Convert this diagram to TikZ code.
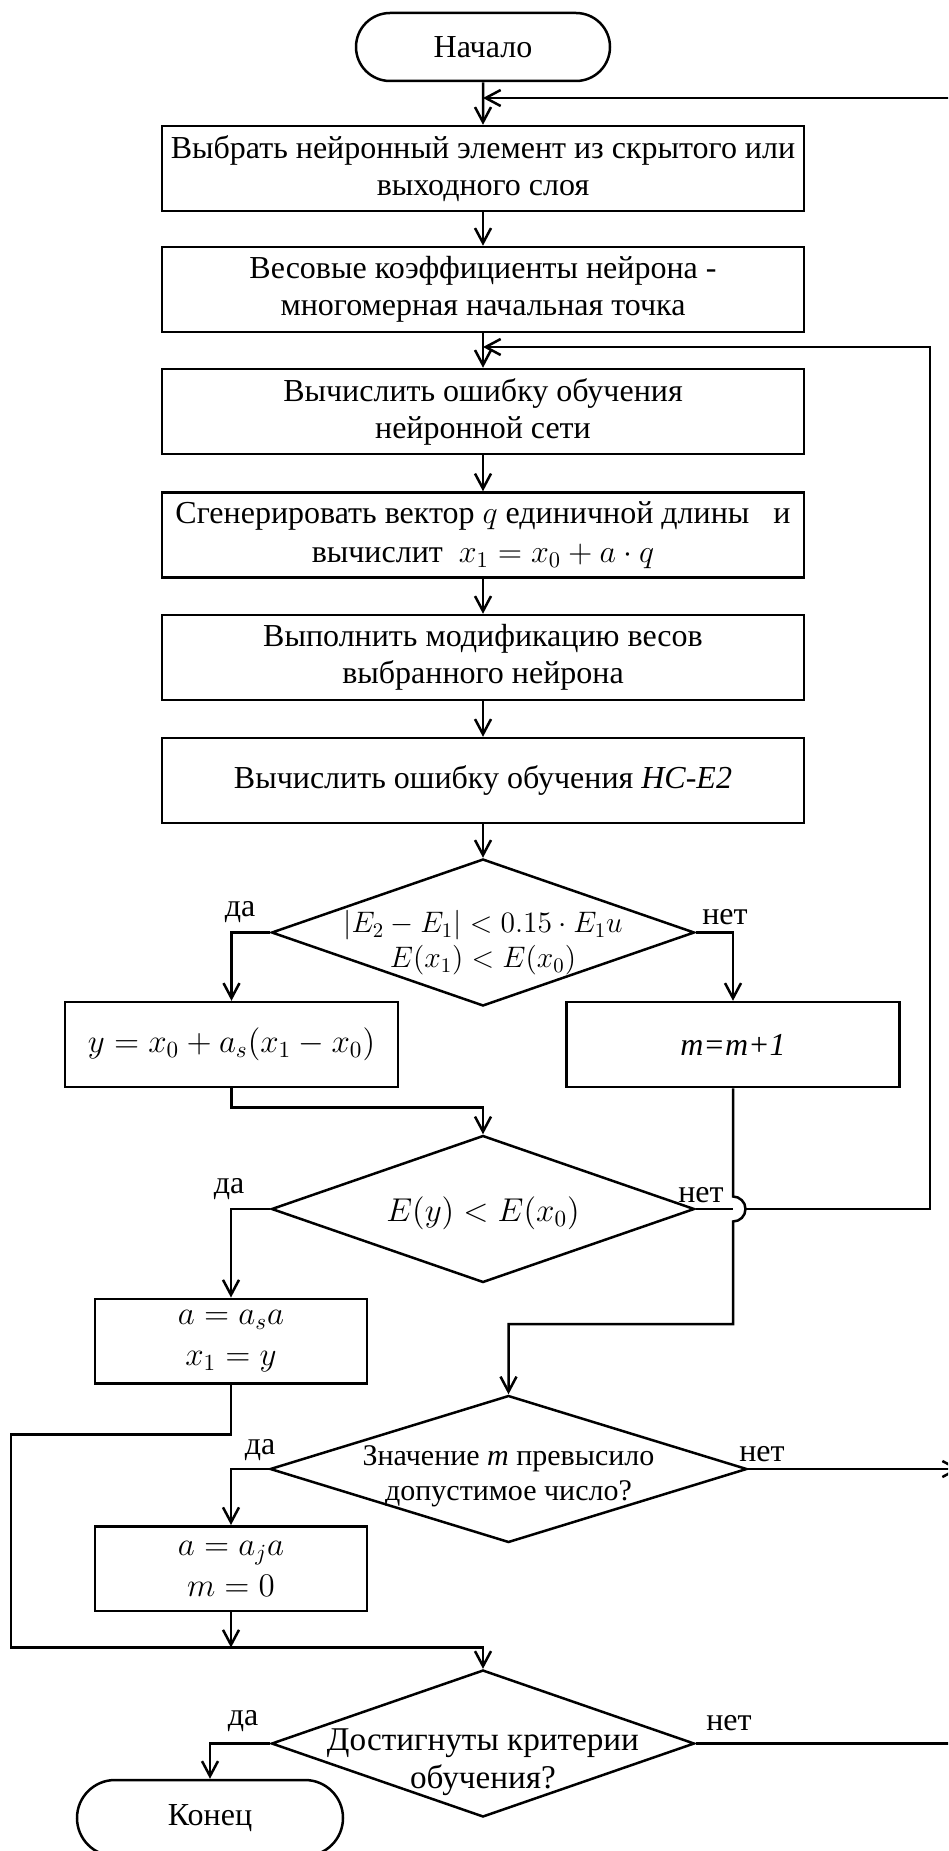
\RequirePackage{fix-cm}
\documentclass[tikz,border=0pt]{standalone}
\usepackage{amsmath,amssymb}
\usepackage{fontspec}
\setmainfont{Liberation Serif}
\usetikzlibrary{shapes.geometric,shapes.misc,arrows.meta}

\begin{document}
\begin{tikzpicture}[x=0.5pt, y=-0.5pt, ->, >={Straight Barb[length=7.5pt,width=8pt]}, line width=1.25pt,
  every node/.style={font=\fontsize{16}{18.5}\selectfont, inner sep=1pt, align=center},
  term/.style={rounded rectangle, draw, minimum width=129pt, minimum height=34pt},
  proc/.style={rectangle, draw, minimum width=321pt, minimum height=42.5pt},
  half/.style={rectangle, draw, minimum width=166.5pt, minimum height=42.5pt},
  small/.style={rectangle, draw, minimum width=136pt, minimum height=42.25pt},
  cond/.style={diamond, draw, minimum width=211.5pt, minimum height=73.5pt, inner sep=0pt},
  mth/.style={font=\fontsize{16.5}{19.5}\selectfont},
  lbl/.style={inner sep=0pt}]
\path[use as bounding box, clip] (0,0) rectangle (948,1851);

\node[term] (start) at (483,47) {Начало};
\node[proc] (b1) at (483,168.5) {Выбрать нейронный элемент из скрытого или\\выходного слоя};
\node[proc] (b2) at (483,289.5) {Весовые коэффициенты нейрона -\\многомерная начальная точка};
\node[proc] (b3) at (483,411.5) {Вычислить ошибку обучения\\нейронной сети};
\node[proc] (b4) at (483,535) {Сгенерировать вектор $q$ единичной длины \ \ и\\[1pt]вычислит \ $x_1=x_0+a\cdot q$};
\node[proc] (b5) at (483,657.5) {Выполнить модификацию весов\\выбранного нейрона};
\node[proc] (b6) at (483,780.5) {Вычислить ошибку обучения \textit{НС-Е2}};

\node[cond] (d1) at (483,932.5) {};
\node[font=\fontsize{14.8}{17.5}\selectfont] (d1t) at (483,943) {$|E_2-E_1|<0.15\cdot E_1u$\\$E(x_1)<E(x_0)$};
\node[half, mth] (by) at (231.5,1044.5) {$y=x_0+a_s(x_1-x_0)$};
\node[half] (bm) at (733,1044.5) {\textit{m=m+1}};

\node[cond] (d2) at (483,1209) {};
\node[mth] (d2t) at (483,1213) {$E(y)<E(x_0)$};
\node[small, mth] (ba1) at (231,1341) {$a=a_sa$\\[1pt]$x_1=y$};

\node[cond, minimum width=238.5pt] (d3) at (508.5,1469) {};
\node[font=\fontsize{15}{17.5}\selectfont] (d3t) at (508.5,1476) {Значение \textit{m} превысило\\допустимое число?};
\node[small, mth] (ba2) at (231,1568.5) {$a=a_ja$\\[1pt]$m=0$};

\node[cond] (d4) at (483,1743.5) {};
\node[font=\fontsize{16.6}{18.7}\selectfont] (d4t) at (483,1762) {Достигнуты критерии\\обучения?};
\node[term, minimum width=135pt, minimum height=38pt] (stop) at (210,1818) {Конец};

\node[lbl] (d1yes) at (240,912) {да};
\node[lbl] (d1no) at (725,917) {нет};
\node[lbl] (d2yes) at (229,1189) {да};
\node[lbl] (d2no) at (701,1195) {нет};
\node[lbl] (d3yes) at (260,1450) {да};
\node[lbl] (d3no) at (762,1454) {нет};
\node[lbl] (d4yes) at (243,1721) {да};
\node[lbl] (d4no) at (729,1723) {нет};

\coordinate (in1) at (483,98);
\coordinate (out1) at (975,98);
\coordinate (in2) at (483,347);
\coordinate (rail) at (930,347);
\coordinate (jump) at (733,1209);
\coordinate (mturn) at (733,1324);
\coordinate (lft) at (11,1647.5);
\coordinate (out3) at (960,1469);
\coordinate (out4) at (975,1743.5);

\path (start) edge (b1)
      (b1) edge (b2)
      (b2) edge (b3)
      (b3) edge (b4)
      (b4) edge (b5)
      (b5) edge (b6)
      (b6) edge (d1);

\draw (out1) -- (in1);
\draw (d1.west) -| (by.north);
\draw (d1.east) -| (bm.north);
\draw (by.south) -- ++(0,19) -| (d2.north);
\draw (bm.south) -- ([yshift=6.25pt]jump) arc[start angle=90, end angle=-90, radius=6.25pt] -- (mturn) -| (d3.north);
\draw[-] (d2.east) -- (jump);
\draw ([xshift=6.25pt]jump) -| (rail) -- (in2);
\draw (d2.west) -| (ba1.north);
\draw (ba1.south) -- ++(0,50) -| (lft) -| (d4.north);
\draw (d3.west) -| (ba2.north);
\draw (ba2.south) -- (ba2.south |- lft);
\draw (d3.east) -- (out3);
\draw (d4.west) -| (stop.north);
\draw[-] (d4.east) -- (out4);
\end{tikzpicture}
\end{document}
